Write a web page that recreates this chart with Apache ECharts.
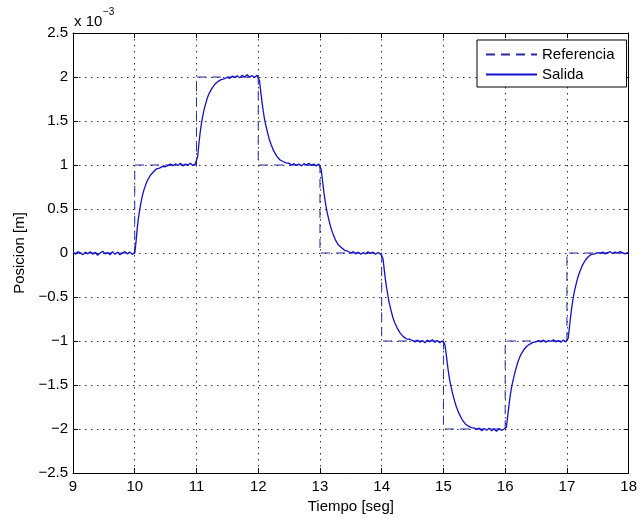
<!DOCTYPE html>
<html>
<head>
<meta charset="utf-8">
<script src="https://cdn.jsdelivr.net/npm/echarts@6/dist/echarts.min.js"></script>
<style>
html,body{margin:0;padding:0;background:#fff;}
#c{width:640px;height:519px;}
</style>
</head>
<body>
<div id="c"></div>
<script>
// Reference (step) signal, units of 1e-3 m
var refT = [9, 10, 11, 12, 13, 14, 15, 16, 17, 18];
var refV = [0, 1, 2, 1, 0, -1, -2, -1, 0, 0];

// Output (Salida), [time, value*1e3]
var seg09 = [[9.00,0.01],[9.04,-0.015],[9.08,0.015],[9.12,0.0],[9.16,-0.02],[9.20,0.01],[9.24,-0.01],[9.28,0.015],[9.32,-0.015],[9.36,0.005],[9.40,-0.025],[9.44,0.0],[9.48,0.02],[9.52,-0.01],[9.56,0.005],[9.60,-0.02],[9.64,0.015],[9.68,-0.015],[9.72,0.01],[9.76,-0.02],[9.80,0.0],[9.84,0.015],[9.88,-0.01],[9.92,0.01],[9.96,-0.015],[10.00,0.0]];
var seg10 = [[10.02,0.12],[10.04,0.28],[10.06,0.40],[10.08,0.49],[10.10,0.57],[10.12,0.64],[10.15,0.72],[10.18,0.78],[10.21,0.83],[10.25,0.88],[10.30,0.92],[10.35,0.955],[10.40,0.965],[10.45,0.985],[10.50,0.98],[10.54,0.995],[10.58,1.01],[10.62,0.99],[10.66,1.015],[10.70,0.995],[10.74,1.02],[10.78,0.99],[10.82,1.01],[10.86,1.0],[10.90,1.02],[10.94,0.995],[10.98,1.01],[11.00,1.0]];
var seg11 = [[11.02,1.10],[11.04,1.25],[11.06,1.37],[11.08,1.47],[11.10,1.55],[11.12,1.62],[11.15,1.70],[11.18,1.77],[11.21,1.82],[11.25,1.87],[11.30,1.92],[11.35,1.95],[11.40,1.97],[11.45,1.98],[11.50,1.995],[11.54,1.985],[11.58,2.01],[11.62,1.995],[11.66,2.015],[11.70,1.99],[11.74,2.02],[11.78,2.0],[11.82,2.025],[11.86,2.0],[11.90,2.015],[11.94,1.995],[11.98,2.02],[12.00,2.01]];
var seg12 = [[12.02,1.96],[12.04,1.84],[12.06,1.72],[12.08,1.62],[12.10,1.53],[12.12,1.46],[12.15,1.37],[12.18,1.29],[12.21,1.23],[12.25,1.16],[12.30,1.10],[12.35,1.06],[12.40,1.04],[12.45,1.025],[12.50,1.02],[12.54,1.0],[12.58,1.015],[12.62,0.995],[12.66,1.01],[12.70,0.99],[12.74,1.015],[12.78,1.0],[12.82,1.02],[12.86,0.995],[12.90,1.01],[12.94,0.99],[12.98,1.01],[13.00,1.0]];
var seg13 = [[13.02,0.95],[13.04,0.83],[13.06,0.71],[13.08,0.61],[13.10,0.52],[13.12,0.45],[13.15,0.36],[13.18,0.28],[13.21,0.22],[13.25,0.15],[13.30,0.09],[13.35,0.06],[13.40,0.03],[13.45,0.02],[13.50,0.0],[13.54,0.015],[13.58,-0.01],[13.62,0.01],[13.66,-0.015],[13.70,0.005],[13.74,-0.01],[13.78,0.015],[13.82,-0.005],[13.86,0.01],[13.90,-0.015],[13.94,0.005],[13.98,-0.01],[14.00,0.0]];
var seg14 = [[14.02,-0.06],[14.04,-0.18],[14.06,-0.30],[14.08,-0.40],[14.10,-0.48],[14.12,-0.56],[14.15,-0.65],[14.18,-0.73],[14.21,-0.79],[14.25,-0.85],[14.30,-0.91],[14.35,-0.95],[14.40,-0.975],[14.45,-0.98],[14.50,-0.995],[14.54,-1.01],[14.58,-0.99],[14.62,-1.015],[14.66,-0.995],[14.70,-1.02],[14.74,-0.99],[14.78,-1.01],[14.82,-0.985],[14.86,-1.015],[14.90,-0.995],[14.94,-1.02],[14.98,-1.0],[15.00,-1.005]];
var seg15 = [[15.02,-1.03],[15.04,-1.12],[15.06,-1.24],[15.08,-1.35],[15.10,-1.44],[15.12,-1.51],[15.15,-1.60],[15.18,-1.68],[15.21,-1.75],[15.25,-1.82],[15.30,-1.89],[15.35,-1.94],[15.40,-1.965],[15.45,-1.985],[15.50,-1.99],[15.54,-2.005],[15.58,-1.99],[15.62,-2.02],[15.66,-1.995],[15.70,-2.015],[15.74,-1.99],[15.78,-2.02],[15.82,-2.0],[15.86,-2.025],[15.90,-1.995],[15.94,-2.015],[15.98,-2.0],[16.00,-2.02]];
var seg16 = [[16.02,-1.98],[16.04,-1.86],[16.06,-1.74],[16.08,-1.63],[16.10,-1.54],[16.12,-1.47],[16.15,-1.38],[16.18,-1.30],[16.21,-1.23],[16.25,-1.16],[16.30,-1.10],[16.35,-1.06],[16.40,-1.035],[16.45,-1.015],[16.50,-1.01],[16.54,-0.995],[16.58,-1.01],[16.62,-0.99],[16.66,-1.015],[16.70,-0.995],[16.74,-1.005],[16.78,-0.985],[16.82,-1.01],[16.86,-0.995],[16.90,-1.015],[16.94,-0.99],[16.98,-1.01],[17.00,-1.005]];
var seg17 = [[17.02,-0.97],[17.04,-0.85],[17.06,-0.72],[17.08,-0.61],[17.10,-0.52],[17.12,-0.44],[17.15,-0.35],[17.18,-0.27],[17.21,-0.21],[17.25,-0.14],[17.30,-0.08],[17.35,-0.04],[17.40,-0.015],[17.45,-0.01],[17.50,0.005],[17.54,-0.005],[17.58,0.01],[17.62,-0.01],[17.66,0.005],[17.70,0.015],[17.74,-0.005],[17.78,0.01],[17.82,0.0],[17.86,0.015],[17.90,0.005],[17.94,-0.01],[17.98,0.005],[18.00,0.0]];

var xTicks = [9, 10, 11, 12, 13, 14, 15, 16, 17, 18];
var yTicks = [-2.5, -2, -1.5, -1, -0.5, 0, 0.5, 1, 1.5, 2, 2.5];

var salida = [].concat(seg09, seg10, seg11, seg12, seg13, seg14, seg15, seg16, seg17);
var referencia = refT.map(function (t, i) { return [t, refV[i]]; });

var FONT = 'Liberation Sans, Arial, Helvetica, sans-serif';
var chart = echarts.init(document.getElementById('c'), null, {renderer: 'canvas'});

function fmt(v) { return String(v).replace('-', '\u2212'); }

var grid = {left: 73, right: 10, top: 33, bottom: 46, containLabel: false};
var gridLine = {show: true, lineStyle: {color: '#333', width: 1, type: [1.5, 4.5]}};

chart.setOption({
  animation: false,
  backgroundColor: '#fff',
  grid: grid,
  legend: {
    orient: 'vertical',
    left: 477, top: 40,
    padding: [7, 12, 5, 8],
    itemWidth: 51, itemHeight: 14, itemGap: 5, itemTextGap: 2,
    backgroundColor: '#fff',
    borderColor: '#000', borderWidth: 1, borderRadius: 0,
    itemStyle: {opacity: 0},
    textStyle: {fontFamily: FONT, fontSize: 15, color: '#000'},
    data: ['Referencia', 'Salida']
  },
  xAxis: [{
    type: 'value', min: xTicks[0], max: xTicks[xTicks.length - 1], interval: 1,
    name: 'Tiempo [seg]', nameLocation: 'middle', nameGap: 24,
    nameTextStyle: {fontFamily: FONT, fontSize: 15, color: '#000'},
    axisLine: {show: true, onZero: false, lineStyle: {color: '#000', width: 1}},
    axisTick: {show: true, inside: true, length: 5, lineStyle: {color: '#000'}},
    axisLabel: {show: true, margin: 6, fontFamily: FONT, fontSize: 15, color: '#000', formatter: fmt},
    splitLine: gridLine
  }, {
    type: 'value', position: 'top', min: xTicks[0], max: xTicks[xTicks.length - 1], interval: 1,
    axisLine: {show: true, onZero: false, lineStyle: {color: '#000', width: 1}},
    axisTick: {show: true, inside: true, length: 5, lineStyle: {color: '#000'}},
    axisLabel: {show: false}, splitLine: {show: false}
  }],
  yAxis: [{
    type: 'value', min: yTicks[0], max: yTicks[yTicks.length - 1], interval: 0.5,
    name: 'Posicion [m]', nameLocation: 'middle', nameGap: 42,
    nameTextStyle: {fontFamily: FONT, fontSize: 15, color: '#000'},
    axisLine: {show: true, onZero: false, lineStyle: {color: '#000', width: 1}},
    axisTick: {show: true, inside: true, length: 5, lineStyle: {color: '#000'}},
    axisLabel: {show: true, margin: 5, fontFamily: FONT, fontSize: 15, color: '#000', formatter: fmt},
    splitLine: gridLine
  }, {
    type: 'value', position: 'right', min: yTicks[0], max: yTicks[yTicks.length - 1], interval: 0.5,
    axisLine: {show: true, onZero: false, lineStyle: {color: '#000', width: 1}},
    axisTick: {show: true, inside: true, length: 5, lineStyle: {color: '#000'}},
    axisLabel: {show: false}, splitLine: {show: false}
  }],
  graphic: [
    {type: 'text', left: 74, top: 14, style: {text: 'x 10', font: '15px ' + FONT, fill: '#000'}},
    {type: 'text', left: 103, top: 7, style: {text: '\u22123', font: '10px ' + FONT, fill: '#000'}}
  ],
  series: [{
    name: 'Referencia', type: 'line', xAxisIndex: 0, yAxisIndex: 0,
    data: referencia, step: 'end', symbol: 'none', showSymbol: false,
    lineStyle: {color: '#2b2ba6', width: 1, type: [9, 6]},
    itemStyle: {color: '#2b2ba6'},
    z: 2
  }, {
    name: 'Salida', type: 'line', xAxisIndex: 0, yAxisIndex: 0,
    data: salida, symbol: 'none', showSymbol: false,
    lineStyle: {color: '#1010d0', width: 1.3},
    itemStyle: {color: '#1010d0'},
    z: 3
  }]
});
</script>
</body>
</html>
